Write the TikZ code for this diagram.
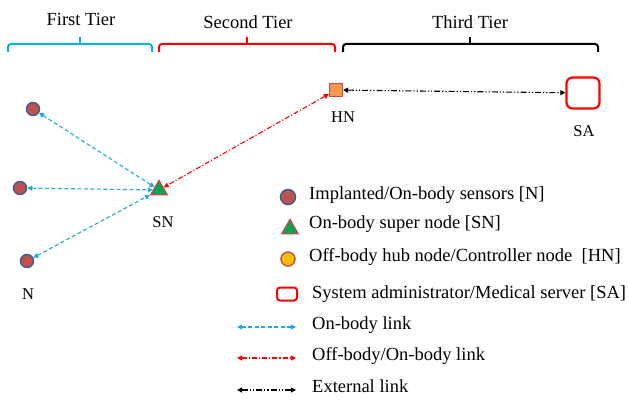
\documentclass[tikz,border=0pt]{standalone}
\usepackage{fontspec}
\setmainfont{Liberation Serif}
\usetikzlibrary{arrows.meta,shapes.geometric}
\definecolor{nfill}{HTML}{C0504D}
\definecolor{nedge}{HTML}{3F5F8F}
\definecolor{sngreen}{HTML}{00A651}
\definecolor{hnorange}{HTML}{F79646}
\definecolor{hngold}{HTML}{FFC000}
\definecolor{linkblue}{HTML}{1FA8E8}
\definecolor{tierblue}{HTML}{00B0F0}
\tikzset{
  sensor/.style={circle, fill=nfill, draw=nedge, line width=1.5pt, minimum size=13pt, inner sep=0pt},
  supernode/.style={regular polygon, regular polygon sides=3, fill=sngreen, draw=nfill, line width=1.3pt, minimum size=19pt, inner sep=0pt},
  hub/.style={rectangle, fill=hnorange, draw=nfill, line width=1.2pt, minimum size=13pt, inner sep=0pt},
  hubleg/.style={circle, fill=hngold, draw=nfill, line width=1.5pt, minimum size=14pt, inner sep=0pt},
  server/.style={rectangle, rounded corners=6pt, draw=red, line width=2.2pt, minimum width=33pt, minimum height=31pt, fill=white},
  serverleg/.style={rectangle, rounded corners=3pt, draw=red, line width=2pt, minimum width=20pt, minimum height=13pt, fill=white},
  onbody/.style={linkblue, line width=1.1pt, dash pattern=on 4pt off 2.5pt, {Triangle[length=5pt,width=5pt]}-{Triangle[length=5pt,width=5pt]}},
  offbody/.style={red, line width=1.1pt, dash pattern=on 5pt off 2pt on 1.2pt off 2pt, {Triangle[length=5pt,width=5pt]}-{Triangle[length=5pt,width=5pt]}},
  external/.style={black, line width=1.1pt, dash pattern=on 6pt off 2pt on 1.2pt off 2pt on 1.2pt off 2pt, {Triangle[length=5pt,width=5pt]}-{Triangle[length=5pt,width=5pt]}},
  lbl/.style={font=\fontsize{16.5}{18}\selectfont, inner sep=0pt},
  tierlbl/.style={font=\fontsize{18.5}{20}\selectfont, inner sep=0pt},
  leg/.style={font=\fontsize{18.5}{20}\selectfont, inner sep=0pt, anchor=west, text height=0.7em, text depth=0.22em},
  bracket/.style={line width=2pt, rounded corners=3pt}
}
\begin{document}
\begin{tikzpicture}[x=1pt,y=-1pt]
\useasboundingbox (0,0) rectangle (628,403);

% tier labels
\node[tierlbl] (t1) at (81,19) {First Tier};
\node[tierlbl] (t2) at (248,22) {Second Tier};
\node[tierlbl] (t3) at (470,22) {Third Tier};

% brackets
\draw[bracket, tierblue] (8,52) -- (8,44) -- (152,44) -- (152,52);
\draw[bracket, tierblue, rounded corners=0pt] (80,44) -- (80,37);
\draw[bracket, red] (159,52) -- (159,44) -- (335,44) -- (335,52);
\draw[bracket, red, rounded corners=0pt] (247,44) -- (247,37);
\draw[bracket, black] (343,52) -- (343,44) -- (598,44) -- (598,52);
\draw[bracket, black, rounded corners=0pt] (470,44) -- (470,37);

% nodes
\node[sensor] (n1) at (33,109) {};
\node[sensor] (n2) at (20,188) {};
\node[sensor] (n3) at (27,261) {};
\node[supernode] (sn) at (159,190) {};
\node[hub] (hn) at (336,90) {};
\node[server] (sa) at (583,93) {};

\node[lbl] (lN) at (28,294) {N};
\node[lbl] (lSN) at (163,222) {SN};
\node[lbl] (lHN) at (343,117) {HN};
\node[lbl] (lSA) at (584,131) {SA};

% links
\draw[onbody] (n1) -- (sn);
\draw[onbody] (n2) -- (sn);
\draw[onbody] (n3) -- (sn);
\draw[offbody] (hn) -- (sn);
\draw[external] (hn) -- (sa);

% legend
\node[sensor, minimum size=15pt] (g1) at (288,197) {};
\node[leg] (g1t) at (309,197) {Implanted/On-body sensors [N]};
\node[supernode] (g2) at (290,229) {};
\node[leg] (g2t) at (309,226) {On-body super node [SN]};
\node[hubleg] (g3) at (288,259) {};
\node[leg] (g3t) at (309,259) {Off-body hub node/Controller node\ \ [HN]};
\node[serverleg] (g4) at (287,294) {};
\node[leg] (g4t) at (312,296) {System administrator/Medical server [SA]};

\coordinate (a1) at (237,327);
\coordinate (b1) at (296,327);
\draw[onbody] (a1) -- (b1);
\node[leg] (g5t) at (312,327) {On-body link};
\coordinate (a2) at (237,358);
\coordinate (b2) at (296,358);
\draw[offbody] (a2) -- (b2);
\node[leg] (g6t) at (312,358) {Off-body/On-body link};
\coordinate (a3) at (237,390);
\coordinate (b3) at (296,390);
\draw[external] (a3) -- (b3);
\node[leg] (g7t) at (312,390) {External link};
\end{tikzpicture}
\end{document}
